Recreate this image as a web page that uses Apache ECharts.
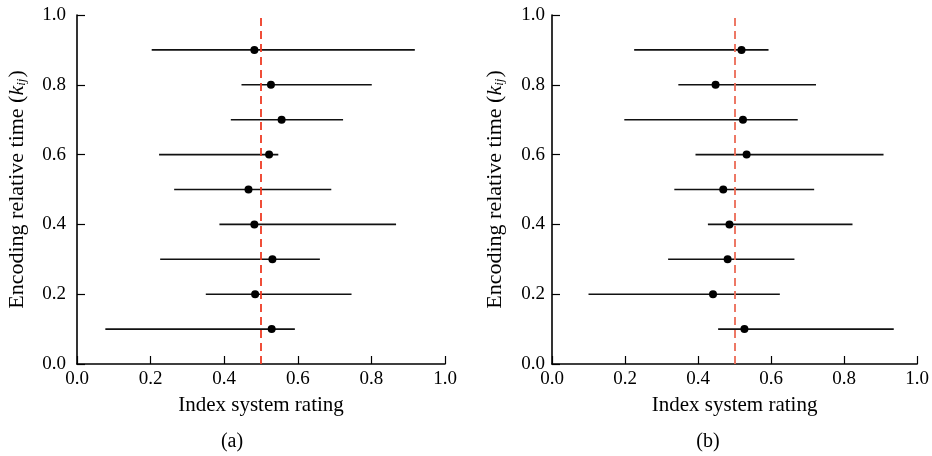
<!DOCTYPE html>
<html>
<head>
<meta charset="utf-8">
<script src="https://cdn.jsdelivr.net/npm/echarts@6/dist/echarts.min.js"></script>
<style>
  html, body { margin: 0; padding: 0; background: #fff; }
  #chart { width: 932px; height: 456px; }
</style>
</head>
<body>
<div id="chart"></div>
<script>
// rows (encoding relative time)
var rowsY = [0.9, 0.8, 0.7, 0.6, 0.5, 0.4, 0.3, 0.2, 0.1];

// panel (a)
var aLow  = [0.203, 0.447, 0.418, 0.223, 0.264, 0.387, 0.226, 0.350, 0.077];
var aHigh = [0.918, 0.801, 0.723, 0.547, 0.691, 0.867, 0.660, 0.746, 0.592];
var aMid  = [0.482, 0.527, 0.556, 0.522, 0.466, 0.482, 0.531, 0.484, 0.529];
var aRef = 0.503;

// panel (b)
var bLow  = [0.225, 0.346, 0.198, 0.393, 0.335, 0.427, 0.318, 0.100, 0.455];
var bHigh = [0.593, 0.723, 0.673, 0.908, 0.718, 0.823, 0.664, 0.624, 0.936];
var bMid  = [0.519, 0.448, 0.523, 0.533, 0.469, 0.486, 0.481, 0.441, 0.527];
var bRef = 0.497;

var xName = 'Index system rating';
var yName = 'Encoding relative time ({k|k}{s|ij})';
var captions = ['(a)', '(b)'];

var FONT = 'Liberation Serif';

var dom = document.getElementById('chart');
var myChart = echarts.init(dom);

function fmt(v) {
  return v.toFixed(1);
}

function xAxisFor(i) {
  return {
    gridIndex: i,
    type: 'value',
    min: 0, max: 1, interval: 0.2,
    name: xName,
    nameLocation: 'middle',
    nameGap: 31,
    nameTextStyle: { fontFamily: FONT, fontSize: 21, color: '#000' },
    axisLine: { show: true, onZero: false, lineStyle: { color: '#000', width: 1.6 } },
    axisTick: { show: true, inside: true, length: 8, lineStyle: { color: '#000', width: 1.2 } },
    axisLabel: { margin: 6, fontFamily: FONT, fontSize: 19, color: '#000', formatter: fmt },
    splitLine: { show: false }
  };
}

function yAxisFor(i) {
  return {
    gridIndex: i,
    type: 'value',
    min: 0, max: 1, interval: 0.2,
    name: yName,
    nameLocation: 'middle',
    nameRotate: 90,
    nameGap: i === 0 ? 49 : 46,
    nameTextStyle: {
      fontFamily: FONT, fontSize: 22, color: '#000',
      rich: {
        k: { fontFamily: FONT, fontSize: 22, fontStyle: 'italic', color: '#000' },
        s: { fontFamily: FONT, fontSize: 13, fontStyle: 'italic', color: '#000', verticalAlign: 'bottom', padding: [0, 1, 0, 0] }
      }
    },
    axisLine: { show: true, onZero: false, lineStyle: { color: '#000', width: 1.6 } },
    axisTick: { show: true, inside: true, length: 8, lineStyle: { color: '#000', width: 1.2 } },
    axisLabel: { margin: i === 0 ? 11 : 7, fontFamily: FONT, fontSize: 19, color: '#000', formatter: fmt },
    splitLine: { show: false }
  };
}

function barData(low, high) {
  return rowsY.map(function (y, k) { return [low[k], high[k], y]; });
}
function dotData(mid) {
  return rowsY.map(function (y, k) { return [mid[k], y]; });
}

function renderBar(params, api) {
  var y = api.value(2);
  var p1 = api.coord([api.value(0), y]);
  var p2 = api.coord([api.value(1), y]);
  return {
    type: 'line',
    shape: { x1: p1[0], y1: p1[1], x2: p2[0], y2: p2[1] },
    style: { stroke: '#111', lineWidth: 1.6 }
  };
}

function panelSeries(i, low, high, mid, ref, refColor) {
  return [{
    type: 'custom',
    xAxisIndex: i, yAxisIndex: i,
    renderItem: renderBar,
    encode: { x: [0, 1], y: 2 },
    data: barData(low, high),
    z: 2,
    silent: true
  }, {
    type: 'scatter',
    xAxisIndex: i, yAxisIndex: i,
    symbol: 'circle',
    symbolSize: 8,
    itemStyle: { color: '#000', opacity: 1 },
    data: dotData(mid),
    z: 4,
    silent: true,
    markLine: {
      silent: true,
      symbol: ['none', 'none'],
      label: { show: false },
      lineStyle: { color: refColor, type: [8, 5], width: 1.8, opacity: 1 },
      data: [{ xAxis: ref }],
      z: 3
    }
  }];
}

var option = {
  backgroundColor: '#fff',
  animation: false,
  grid: [
    { left: 77, top: 15, width: 368, height: 349 },
    { left: 552, top: 15, width: 367, height: 349 }
  ],
  xAxis: [xAxisFor(0), xAxisFor(1)],
  yAxis: [yAxisFor(0), yAxisFor(1)],
  graphic: [
    { type: 'text', x: 232, y: 442, style: { text: captions[0], fontFamily: FONT, fontSize: 20, fill: '#000', textAlign: 'center', textVerticalAlign: 'middle' } },
    { type: 'text', x: 708, y: 442, style: { text: captions[1], fontFamily: FONT, fontSize: 20, fill: '#000', textAlign: 'center', textVerticalAlign: 'middle' } }
  ],
  series: [].concat(
    panelSeries(0, aLow, aHigh, aMid, aRef, '#ef3b24'),
    panelSeries(1, bLow, bHigh, bMid, bRef, '#ec6a55')
  )
};

myChart.setOption(option);
</script>
</body>
</html>
